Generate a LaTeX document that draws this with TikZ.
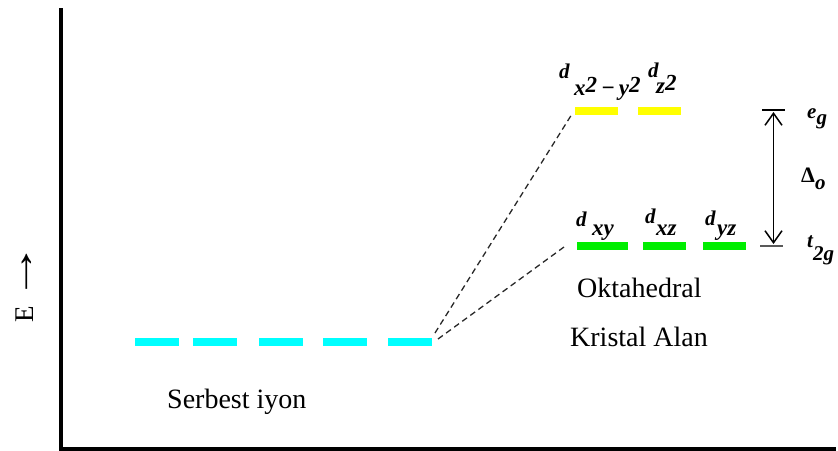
\documentclass[tikz,border=0pt]{standalone}
\usepackage{fontspec}
\setmainfont{Liberation Serif}
\newfontfamily\tms{Liberation Serif}
\usetikzlibrary{arrows.meta}
\definecolor{cy}{RGB}{0,255,255}
\definecolor{ye}{RGB}{255,255,0}
\definecolor{gr}{RGB}{0,238,0}
\definecolor{dk}{RGB}{40,40,40}
\tikzset{
  bar/.style={draw=none,minimum height=8pt,inner sep=0pt},
  cybar/.style={bar,fill=cy,minimum width=44pt},
  yebar/.style={bar,fill=ye,minimum width=43pt},
  grbar/.style={bar,fill=gr,minimum width=43pt},
  dlab/.style={anchor=base west,inner sep=0pt,font=\tms\fontsize{21}{21}\selectfont\bfseries\itshape},
  slab/.style={anchor=base west,inner sep=0pt,font=\tms\fontsize{23}{23}\selectfont\bfseries\itshape},
  glab/.style={anchor=base west,inner sep=0pt,font=\tms\fontsize{21}{21}\selectfont\bfseries\itshape},
  biglab/.style={anchor=base west,inner sep=0pt,font=\tms\fontsize{28}{30}\selectfont},
  split/.style={dash pattern=on 6pt off 4pt,line width=1.3pt,dk},
  axis/.style={line width=4pt,black}
}
\begin{document}
\begin{tikzpicture}[x=1pt,y=-1pt]
\useasboundingbox (0,0) rectangle (838,450);
% axes
\coordinate (top) at (60.5,8);
\coordinate (orig) at (60.5,448.5);
\coordinate (right) at (836,448.5);
\draw[axis] (top) -- (orig) -- (right);
% E label
\node[biglab,rotate=90,font=\tms\fontsize{27}{30}\selectfont] (E) at (33,323) {E\hspace{5pt}\scalebox{2.2}[1.5]{→}};
% cyan bars
\node[cybar] (c1) at (156.5,341.5) {};
\node[cybar] (c2) at (215,341.5) {};
\node[cybar] (c3) at (280.5,341.5) {};
\node[cybar] (c4) at (345,341.5) {};
\node[cybar] (c5) at (409.5,341.5) {};
% yellow bars
\node[yebar] (y1) at (596.5,111) {};
\node[yebar] (y2) at (659,111) {};
% green bars
\node[grbar,minimum width=51pt] (g1) at (602.5,246) {};
\node[grbar] (g2) at (664.5,246) {};
\node[grbar] (g3) at (724.5,246) {};
% dashed connectors
\coordinate (s1) at (435,333);
\coordinate (s2) at (438,339);
\coordinate (e1) at (572,114);
\coordinate (e2) at (564,247);
\draw[split] (s1) -- (e1);
\draw[split] (s2) -- (e2);
% d labels
\node[dlab] (dA) at (559,78) {d};
\node[slab] (sA) at (574,95) {x\raisebox{3pt}{2}\,−\,y\raisebox{3pt}{2}};
\node[dlab] (dB) at (648,77) {d};
\node[slab] (sB) at (656,93) {z\raisebox{3pt}{2}};
\node[dlab] (dC) at (576,226) {d};
\node[slab] (sC) at (592,235) {xy};
\node[dlab] (dD) at (645,223) {d};
\node[slab] (sD) at (656,235) {xz};
\node[dlab] (dE) at (705,225) {d};
\node[slab] (sE) at (717,235) {yz};
% levels and splitting
\coordinate (egL) at (762,110);
\coordinate (egR) at (785,110);
\coordinate (tgL) at (760,246);
\coordinate (tgR) at (783,246);
\draw[line width=1.4pt] (egL) -- (egR);
\draw[line width=1.4pt,black!65] (tgL) -- (tgR);
\coordinate (aT) at (773.5,112);
\coordinate (aB) at (773.5,244);
\draw[line width=1.5pt,{Straight Barb[length=12pt,width=17pt]}-{Straight Barb[length=12pt,width=17pt]}] (aT) -- (aB);
\node[glab] (eg) at (807,118) {e\raisebox{-6pt}{g}};
\node[glab] (De) at (801,182) {{\bfseries\upshape\fontsize{22}{22}\selectfont Δ}\raisebox{-7pt}{o}};
\node[glab] (tg) at (807,247) {t\raisebox{-13pt}{2g}};
% captions
\node[biglab] (ok) at (577,297) {Oktahedral};
\node[biglab] (ka) at (570,346) {Kristal Alan};
\node[biglab] (si) at (167,408) {Serbest iyon};
\end{tikzpicture}
\end{document}
